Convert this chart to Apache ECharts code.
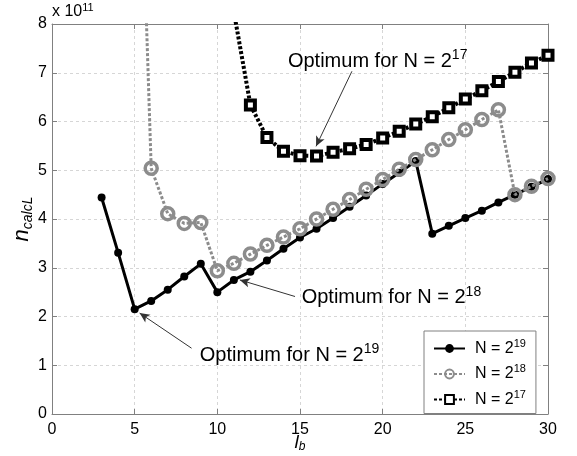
<!DOCTYPE html>
<html>
<head>
<meta charset="utf-8">
<script src="https://cdn.jsdelivr.net/npm/echarts@6/dist/echarts.min.js"></script>
<style>
html, body {margin: 0; padding: 0; background: #fff}
#chart {width: 577px; height: 456px}
</style>
</head>
<body>
<div id="chart"></div>
<script>
// n_calcL values, in units of 1e11
const lb19 = [3, 4, 5, 6, 7, 8, 9, 10, 11, 12, 13, 14, 15, 16, 17, 18, 19, 20, 21, 22, 23, 24, 25, 26, 27, 28, 29, 30]
const n19 = [4.44, 3.31, 2.15, 2.32, 2.55, 2.82, 3.08, 2.50, 2.75, 2.92, 3.15, 3.39, 3.62, 3.80, 4.02, 4.25, 4.48, 4.72, 4.95, 5.19, 3.70, 3.86, 4.02, 4.17, 4.34, 4.50, 4.66, 4.82]
const lb18 = [5, 6, 7, 8, 9, 10, 11, 12, 13, 14, 15, 16, 17, 18, 19, 20, 21, 22, 23, 24, 25, 26, 27, 28, 29, 30]
const n18 = [15.5, 5.04, 4.11, 3.91, 3.93, 2.94, 3.09, 3.28, 3.46, 3.63, 3.80, 4.00, 4.20, 4.40, 4.61, 4.81, 5.02, 5.22, 5.42, 5.63, 5.83, 6.04, 6.24, 4.50, 4.67, 4.83]
const lb17 = [11, 12, 13, 14, 15, 16, 17, 18, 19, 20, 21, 22, 23, 24, 25, 26, 27, 28, 29, 30]
const n17 = [8.25, 6.34, 5.67, 5.39, 5.30, 5.29, 5.37, 5.44, 5.53, 5.66, 5.80, 5.95, 6.10, 6.28, 6.46, 6.63, 6.82, 7.01, 7.20, 7.36]
const xTicks = {min: 0, max: 30, interval: 5}
const yTicks = {min: 0, max: 8, interval: 1}

// annotations: text anchor and arrow (from -> to), data coords
const notes = [
  {exp: '17', at: [14.27, 7.23], from: [18.14, 7.03], to: [15.97, 5.49]},
  {exp: '18', at: [15.1, 2.38], from: [14.7, 2.41], to: [11.36, 2.75]},
  {exp: '19', at: [8.94, 1.21], from: [8.44, 1.35], to: [5.30, 2.07]}
]

const font = '"Liberation Sans", Arial, Helvetica, sans-serif'
const axisGray = '#808080'
const zip = (xs, ys) => xs.map((x, i) => [x, ys[i]])

const chart = echarts.init(document.getElementById('chart'))

const baseAxis = t => ({
  type: 'value', min: t.min, max: t.max, interval: t.interval,
  axisLine: {show: true, onZero: false, lineStyle: {color: axisGray, width: 1}},
  axisTick: {show: true, inside: true, length: 5, lineStyle: {color: axisGray}},
  splitLine: {show: false}
})

chart.setOption({
  animation: false,
  textStyle: {fontFamily: font},
  grid: {left: 52, right: 29, top: 24, bottom: 42, outerBoundsMode: 'none', containLabel: false},
  xAxis: [
    {
      ...baseAxis(xTicks), position: 'bottom',
      axisLabel: {color: '#000', fontSize: 16, margin: 8},
      splitLine: {show: true, lineStyle: {color: '#d6d6d6', type: [3, 3]}},
      name: '{i|l}{s|b}', nameLocation: 'middle', nameGap: 18, nameMoveOverlap: false,
      nameTextStyle: {
        rich: {
          i: {fontSize: 19, fontStyle: 'italic', fontFamily: font, color: '#000'},
          s: {fontSize: 12, fontStyle: 'italic', fontFamily: font, color: '#000', padding: [9, 0, 0, 0]}
        }
      }
    },
    {...baseAxis(xTicks), position: 'top', axisLabel: {show: false}}
  ],
  yAxis: [
    {
      ...baseAxis(yTicks), position: 'left',
      axisLabel: {color: '#000', fontSize: 16, margin: 5},
      splitLine: {show: true, lineStyle: {color: '#d6d6d6', type: [3, 3]}},
      name: '{i|n}{s|calcL}', nameLocation: 'middle', nameGap: 17, nameRotate: 90, nameMoveOverlap: false,
      nameTextStyle: {
        rich: {
          i: {fontSize: 22, fontStyle: 'italic', fontFamily: font, color: '#000'},
          s: {fontSize: 14, fontStyle: 'italic', fontFamily: font, color: '#000', padding: [12, 0, 0, 0]}
        }
      }
    },
    {...baseAxis(yTicks), position: 'right', axisLabel: {show: false}}
  ],
  legend: {
    left: 424, top: 331, orient: 'vertical',
    backgroundColor: '#fff', borderColor: axisGray, borderWidth: 1,
    padding: [7, 10, 6, 9], itemGap: 7, itemWidth: 31, itemHeight: 11,
    formatter: name => '{b|N = 2}{s|' + name.split('^')[1] + '}',
    textStyle: {
      rich: {
        b: {fontSize: 16, fontFamily: font, color: '#000', padding: [0, 0, 0, 5]},
        s: {fontSize: 11, fontFamily: font, color: '#000', padding: [0, 0, 10, 0]}
      }
    },
    data: ['N = 2^19', 'N = 2^18', 'N = 2^17']
  },
  series: [
    {
      name: 'N = 2^19', type: 'line', data: zip(lb19, n19),
      symbol: 'circle', symbolSize: 8,
      lineStyle: {color: '#000', width: 3},
      itemStyle: {color: '#000'}, z: 2
    },
    {
      name: 'N = 2^18', type: 'line', data: zip(lb18, n18),
      symbol: 'circle', symbolSize: 12,
      lineStyle: {color: '#8c8c8c', width: 3, type: [3, 2]},
      itemStyle: {color: 'rgba(255,255,255,0)', borderColor: '#8c8c8c', borderWidth: 3.5}, z: 3
    },
    {
      name: 'N = 2^17', type: 'line', data: zip(lb17, n17),
      symbol: 'rect', symbolSize: 9,
      lineStyle: {color: '#000', width: 4, type: [3, 2]},
      itemStyle: {color: '#fff', borderColor: '#000', borderWidth: 4}, z: 4,
      markLine: {
        silent: true, symbol: ['none', 'arrow'], symbolSize: [7, 10],
        label: {show: false},
        lineStyle: {color: '#333', width: 1, type: 'solid'},
        data: notes.map(n => [{coord: n.from}, {coord: n.to}])
      }
    }
  ]
})

const richNote = {
  b: {fontSize: 20, fontFamily: font, fill: '#000', color: '#000'},
  s: {fontSize: 14, fontFamily: font, fill: '#000', color: '#000', padding: [0, 0, 12, 0]}
}
const graphics = notes.map(n => {
  const p = chart.convertToPixel({gridIndex: 0}, n.at)
  return {
    type: 'text', x: p[0], y: p[1], z: 100,
    style: {text: '{b|Optimum for N = 2}{s|' + n.exp + '}', rich: richNote, verticalAlign: 'middle', align: 'left', fill: '#000'}
  }
})
graphics.push({
  type: 'text', left: 52, top: 2,
  style: {
    text: '{b|x 10}{s|11}',
    rich: {
      b: {fontSize: 16, fontFamily: font, fill: '#000', color: '#000'},
      s: {fontSize: 11, fontFamily: font, fill: '#000', color: '#000', padding: [0, 0, 9, 0]}
    }
  }
})
chart.setOption({graphic: graphics})
</script>
</body>
</html>
